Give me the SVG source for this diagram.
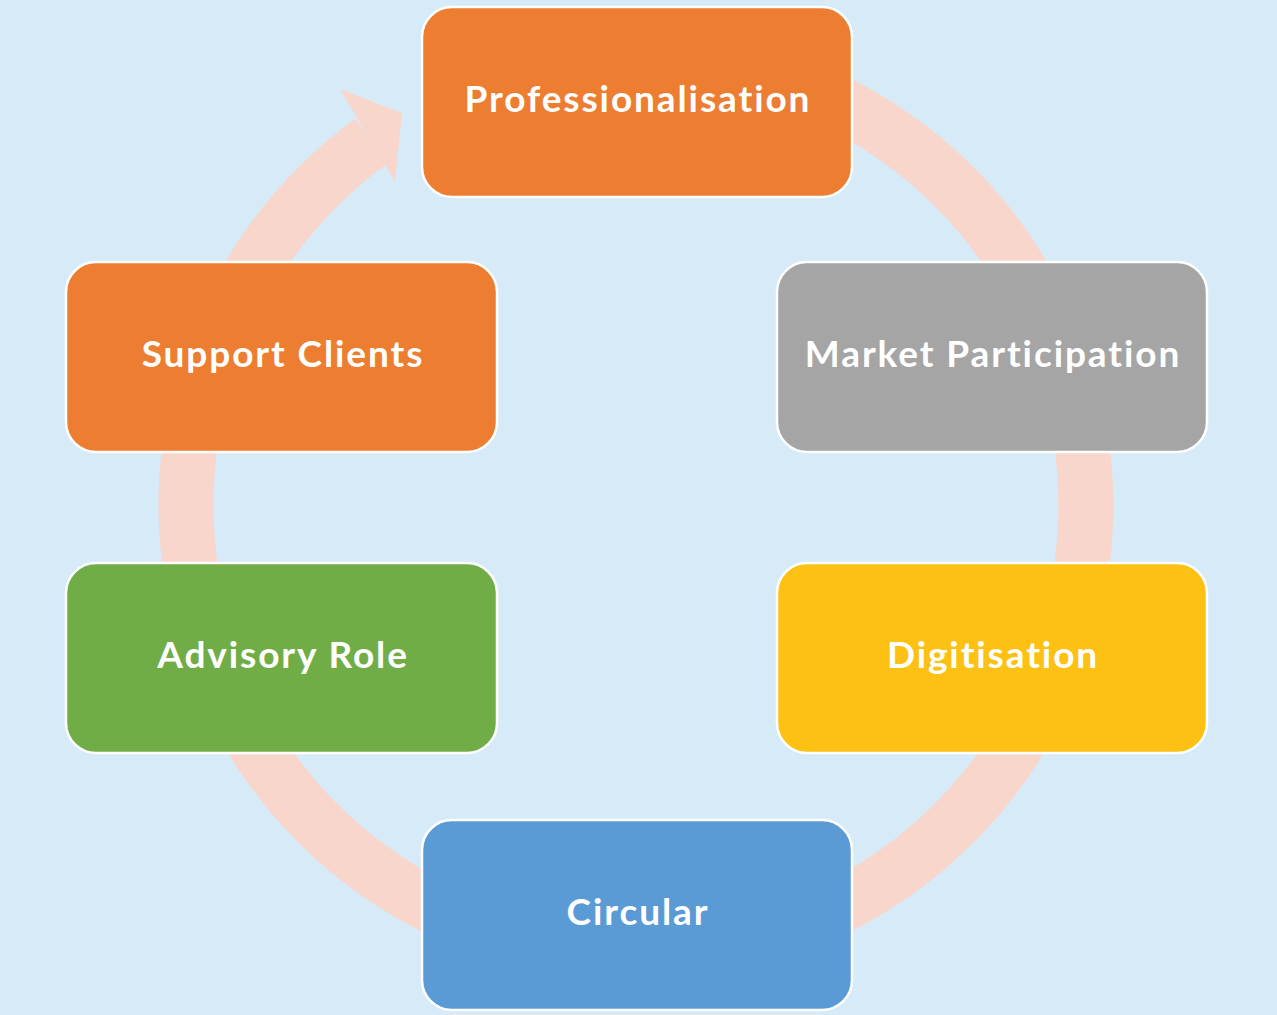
<svg xmlns="http://www.w3.org/2000/svg" width="1277" height="1015" viewBox="0 0 1277 1015">
<style>
.box{stroke:#ffffff;stroke-width:2.5}
.lbl{font-family:Lato,"Open Sans","Liberation Sans",sans-serif;font-weight:700;font-size:37px;letter-spacing:1.9px;font-variant-ligatures:none;fill:#ffffff;text-anchor:middle}
.ring{fill:none;stroke:#f8d6cc;stroke-width:55}
</style>
<rect x="0" y="0" width="1277" height="1015" fill="#d6ebf7"/>
<g id="connectors">
<path class="ring" d="M 557.9 61.8 A 450 450 0 1 1 636 955 A 450 450 0 0 1 371.5 140.9"/>
<polygon points="340,89 402,113 395,182" fill="#f8d6cc"/>
</g>
<g id="professionalisation">
<rect class="box" x="422" y="7" width="430" height="190" rx="30" fill="#ed7d31"/>
<text class="lbl" x="638" y="112">Professionalisation</text>
</g>
<g id="market-participation">
<rect class="box" x="777" y="262" width="430" height="190" rx="30" fill="#a5a5a5"/>
<text class="lbl" x="993" y="367">Market Participation</text>
</g>
<g id="digitisation">
<rect class="box" x="777" y="563" width="430" height="190" rx="30" fill="#fdc113"/>
<text class="lbl" x="993" y="668">Digitisation</text>
</g>
<g id="circular">
<rect class="box" x="422" y="820" width="430" height="190" rx="30" fill="#5b9bd5"/>
<text class="lbl" x="638" y="925">Circular</text>
</g>
<g id="advisory-role">
<rect class="box" x="66" y="563" width="431" height="190" rx="30" fill="#71ad47"/>
<text class="lbl" x="283" y="668">Advisory Role</text>
</g>
<g id="support-clients">
<rect class="box" x="66" y="262" width="431" height="190" rx="30" fill="#ed7d31"/>
<text class="lbl" x="283" y="367">Support Clients</text>
</g>
</svg>
